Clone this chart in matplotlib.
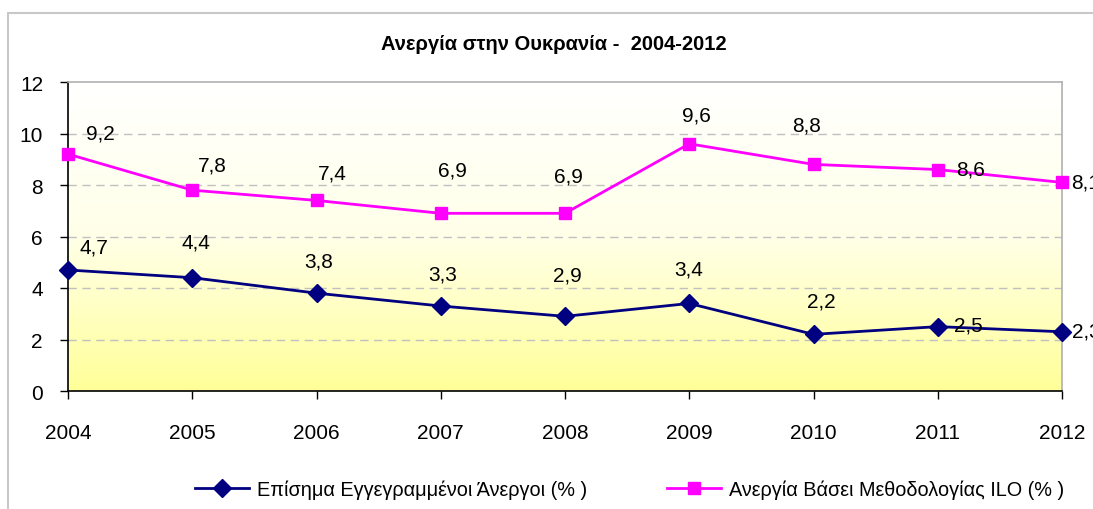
import numpy as np
import matplotlib
matplotlib.use("Agg")
import matplotlib.pyplot as plt
from matplotlib.patches import Rectangle
from matplotlib.colors import LinearSegmentedColormap

years = ["2004", "2005", "2006", "2007", "2008", "2009", "2010", "2011", "2012"]
registered = [4.7, 4.4, 3.8, 3.3, 2.9, 3.4, 2.2, 2.5, 2.3]
ilo = [9.2, 7.8, 7.4, 6.9, 6.9, 9.6, 8.8, 8.6, 8.1]
yticks = [0, 2, 4, 6, 8, 10, 12]
title = "Ανεργία στην Ουκρανία -  2004-2012"
label_registered = "Επίσημα Εγγεγραμμένοι Άνεργοι (% )"
label_ilo = "Ανεργία Βάσει Μεθοδολογίας ILO (% )"

# label offsets in pixels (dx, dy)
off_reg = [(26, 23), (4, 36), (2, 32), (2, 32), (2, 41), (-1, 34), (8, 33), (31, 2), (24, 1)]
off_ilo = [(32, 21), (20, 25), (16, 27), (12, 43), (3, 37), (7, 29), (-7, 39), (33, 1), (24, 0)]

FONT = ["Liberation Sans", "DejaVu Sans"]
plt.rcParams["font.family"] = FONT

W, H = 1093, 510
fig = plt.figure(figsize=(W / 100, H / 100), dpi=100)

# outer chart border
fig.patches.append(Rectangle((8 / W, -0.1), 1.2, 1 - 14 / H + 0.1, transform=fig.transFigure,
                             fill=False, edgecolor="#c8c8c8", linewidth=1.5))

L, R, T, B = 68, 1062, 83, 392
ax = fig.add_axes([L / W, 1 - B / H, (R - L) / W, (B - T) / H])

x = np.arange(len(years))
ax.set_xlim(0, len(years) - 1)
ax.set_ylim(0, 12)

# gradient background
cmap = LinearSegmentedColormap.from_list("yg", ["#ffff99", "#ffffe8", "#ffffff"])
grad = np.linspace(0, 1, 256).reshape(-1, 1)
ax.imshow(grad, aspect="auto", cmap=cmap, origin="lower",
          extent=[0, len(years) - 1, 0, 12], zorder=0)

for yv in yticks[1:-1]:
    ax.axhline(yv, color="#c0c0c0", linestyle=(0, (6, 4)), linewidth=1, zorder=1)

l1, = ax.plot(x, registered, color="#000080", linewidth=2, marker="D", markersize=9,
              label=label_registered, zorder=3, clip_on=False)
l2, = ax.plot(x, ilo, color="#ff00ff", linewidth=2, marker="s", markersize=9,
              label=label_ilo, zorder=3, clip_on=False)

def fmt(v):
    return ("%.1f" % v).replace(".", ",")

for xi, v, (dx, dy) in zip(x, registered, off_reg):
    ax.annotate(fmt(v), (xi, v), xytext=(dx, dy), textcoords="offset pixels",
                ha="center", va="center", fontsize=15, color="black",
                annotation_clip=False, zorder=4)
for xi, v, (dx, dy) in zip(x, ilo, off_ilo):
    ax.annotate(fmt(v), (xi, v), xytext=(dx, dy), textcoords="offset pixels",
                ha="center", va="center", fontsize=15, color="black",
                annotation_clip=False, zorder=4)

ax.set_xticks(x)
ax.set_xticklabels(years)
ax.set_yticks(yticks)
ax.tick_params(axis="both", labelsize=15, direction="out", length=6, width=1, color="black")
ax.tick_params(axis="x", pad=17)
ax.tick_params(axis="y", pad=12)

ax.spines["left"].set_color("black")
ax.spines["bottom"].set_color("black")
ax.spines["top"].set_color("#b0b0b0")
ax.spines["right"].set_color("#b0b0b0")
for s in ax.spines.values():
    s.set_linewidth(1.2)

fig.text(554 / W, 1 - 45 / H, title, ha="center", va="center", fontsize=14.5,
         fontweight="bold")

fig.legend(handles=[l1, l2], loc="center left", bbox_to_anchor=(195 / W, 1 - 490 / H),
           ncol=2, frameon=False, fontsize=14.3, handlelength=2.7, columnspacing=4.05,
           handletextpad=0.4, borderaxespad=0, borderpad=0)

fig.savefig("out.png", dpi=100)
